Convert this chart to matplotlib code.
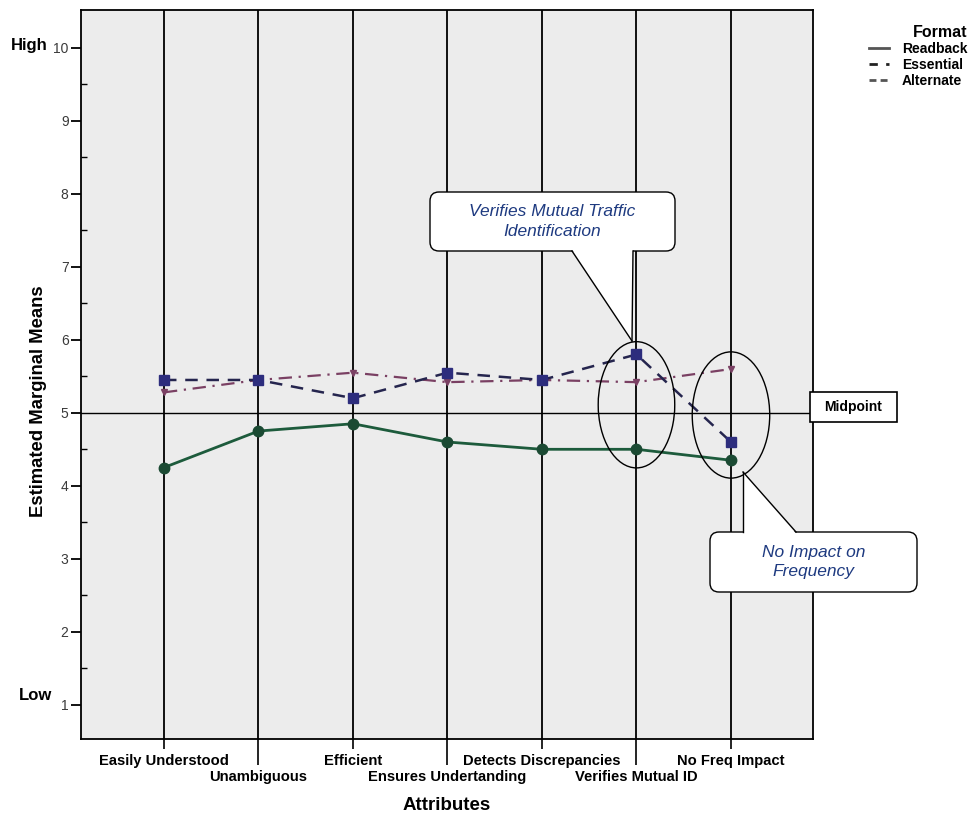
import numpy as np
import matplotlib
matplotlib.use("Agg")
import matplotlib.pyplot as plt
from matplotlib.patches import Ellipse, FancyBboxPatch, Polygon, Rectangle
from matplotlib.lines import Line2D

plt.rcParams['font.family'] = ['Liberation Sans', 'DejaVu Sans']

# ---- data ----
attributes = ["Easily Understood", "Unambiguous", "Efficient", "Ensures Undertanding",
              "Detects Discrepancies", "Verifies Mutual ID", "No Freq Impact"]
formats = ["Readback", "Essential", "Alternate"]
readback = [4.25, 4.75, 4.85, 4.6, 4.5, 4.5, 4.35]
essential = [5.45, 5.45, 5.2, 5.55, 5.45, 5.8, 4.6]
alternate = [5.28, 5.45, 5.55, 5.42, 5.45, 5.42, 5.6]
y_ticks = [1, 2, 3, 4, 5, 6, 7, 8, 9, 10]
midpoint = 5

x = np.arange(len(attributes))

fig = plt.figure(figsize=(9.75, 8.16), dpi=100)
ax = fig.add_axes([81 / 975, 77 / 816, 732 / 975, 729 / 816])
ax.set_facecolor('#ececec')
for s in ax.spines.values():
    s.set_linewidth(1.3)
    s.set_color('black')

# category reference lines and the midpoint
for xi in x:
    ax.axvline(xi, color='black', lw=1.3, zorder=1)
ax.axhline(midpoint, color='black', lw=1.0, zorder=1)

l1, = ax.plot(x, readback, color='#1d5b3c', lw=2.0, marker='o', ms=7.5,
              mfc='#1b4a33', mec='#1b4a33', zorder=4)
l2, = ax.plot(x, essential, color='#25254e', lw=1.8, ls=(0, (5, 3.5)), marker='s', ms=7.5,
              mfc='#2d2d7d', mec='#2d2d7d', zorder=5)
l3, = ax.plot(x, alternate, color='#7a4063', lw=1.6, ls=(0, (6, 3, 1, 3)), marker='v', ms=4.5,
              mfc='#7a4063', mec='#7a4063', zorder=3)

ax.set_xlim(-0.878, 6.868)
ax.set_ylim(0.53, 10.52)

# y axis
ax.set_yticks(y_ticks)
ax.set_yticks(np.arange(1.5, 10, 1), minor=True)
ax.tick_params(axis='y', which='major', direction='out', length=7, width=1.3,
               labelsize=10, labelcolor='#3a3a3a', pad=2)
ax.tick_params(axis='y', which='minor', direction='in', length=4, width=1.0)

# x axis: labels staggered in two rows
ax.set_xticks(x[::2], [attributes[i] for i in x[::2]])
ax.set_xticks(x[1::2], [attributes[i] for i in x[1::2]], minor=True)
ax.tick_params(axis='x', which='major', direction='out', length=7, width=1.2,
               labelsize=10.6, pad=3.5)
ax.tick_params(axis='x', which='minor', direction='out', length=19, width=1.2,
               labelsize=10.6, pad=3)
for lab in ax.get_xticklabels() + ax.get_xticklabels(minor=True):
    lab.set_fontweight('bold')

ax.set_ylabel('Estimated Marginal Means', fontsize=13.3, fontweight='bold')
ax.yaxis.set_label_coords(-0.046, 0.464)
ax.set_xlabel('Attributes', fontsize=13.5, fontweight='bold')
ax.xaxis.set_label_coords(0.5, -0.079)

ax.text(-0.045, 10.04, 'High', transform=ax.get_yaxis_transform(), ha='right', va='center',
        fontsize=12, fontweight='bold')
ax.text(-0.040, 1.13, 'Low', transform=ax.get_yaxis_transform(), ha='right', va='center',
        fontsize=12, fontweight='bold')

# ellipses around the two highlighted attributes
ax.add_patch(Ellipse((x[5], 5.11), 0.81, 1.73, fill=False, ec='black', lw=1.0, zorder=6))
ax.add_patch(Ellipse((x[6], 4.97), 0.82, 1.73, fill=False, ec='black', lw=1.0, zorder=6))

# legend
leg = fig.legend([Line2D([], [], color='#555555', lw=2),
                  Line2D([], [], color='#222222', lw=2, ls=(0, (3, 3))),
                  Line2D([], [], color='#555555', lw=2, ls=(0, (2.5, 1.5)))],
                 formats, loc='upper right', bbox_to_anchor=(1.005, 0.985), frameon=False,
                 title='Format', alignment='right', handlelength=1.5, handletextpad=0.9,
                 labelspacing=0.15, prop={'weight': 'bold', 'size': 10},
                 title_fontproperties={'weight': 'bold', 'size': 11.5})

# overlay in pixel coordinates for the callouts
ov = fig.add_axes([0, 0, 1, 1], zorder=10)
ov.set_xlim(0, 975)
ov.set_ylim(816, 0)
ov.axis('off')
ov.patch.set_alpha(0)


def callout(bx, by, bw, bh, base_l, base_r, tip, text):
    ov.add_patch(FancyBboxPatch((bx, by), bw, bh, boxstyle='round,pad=0,rounding_size=9',
                                fc='white', ec='black', lw=1.0))
    yb = by + bh if tip[1] > by else by
    d = -1.5 if tip[1] > by else 1.5
    ov.add_patch(Polygon([(base_l, yb + d), (base_r, yb + d), tip], closed=True,
                         fc='white', ec='none'))
    ov.plot([base_l, tip[0]], [yb, tip[1]], color='black', lw=1.0)
    ov.plot([base_r, tip[0]], [yb, tip[1]], color='black', lw=1.0)
    ov.text(bx + bw / 2, by + bh / 2, text, ha='center', va='center', fontsize=12.5,
            style='italic', color='#1e3a80', linespacing=1.35)


callout(430, 192, 245, 59, 572, 633, (632, 341), 'Verifies Mutual Traffic\nIdentification')
callout(710, 532, 207, 60, 743, 796, (743, 472), 'No Impact on\nFrequency')

ov.add_patch(Rectangle((810, 392), 87, 30, fc='white', ec='black', lw=1.2))
ov.text(853.5, 407, 'Midpoint', ha='center', va='center', fontsize=10, fontweight='bold')

fig.savefig('out.png', dpi=100)
